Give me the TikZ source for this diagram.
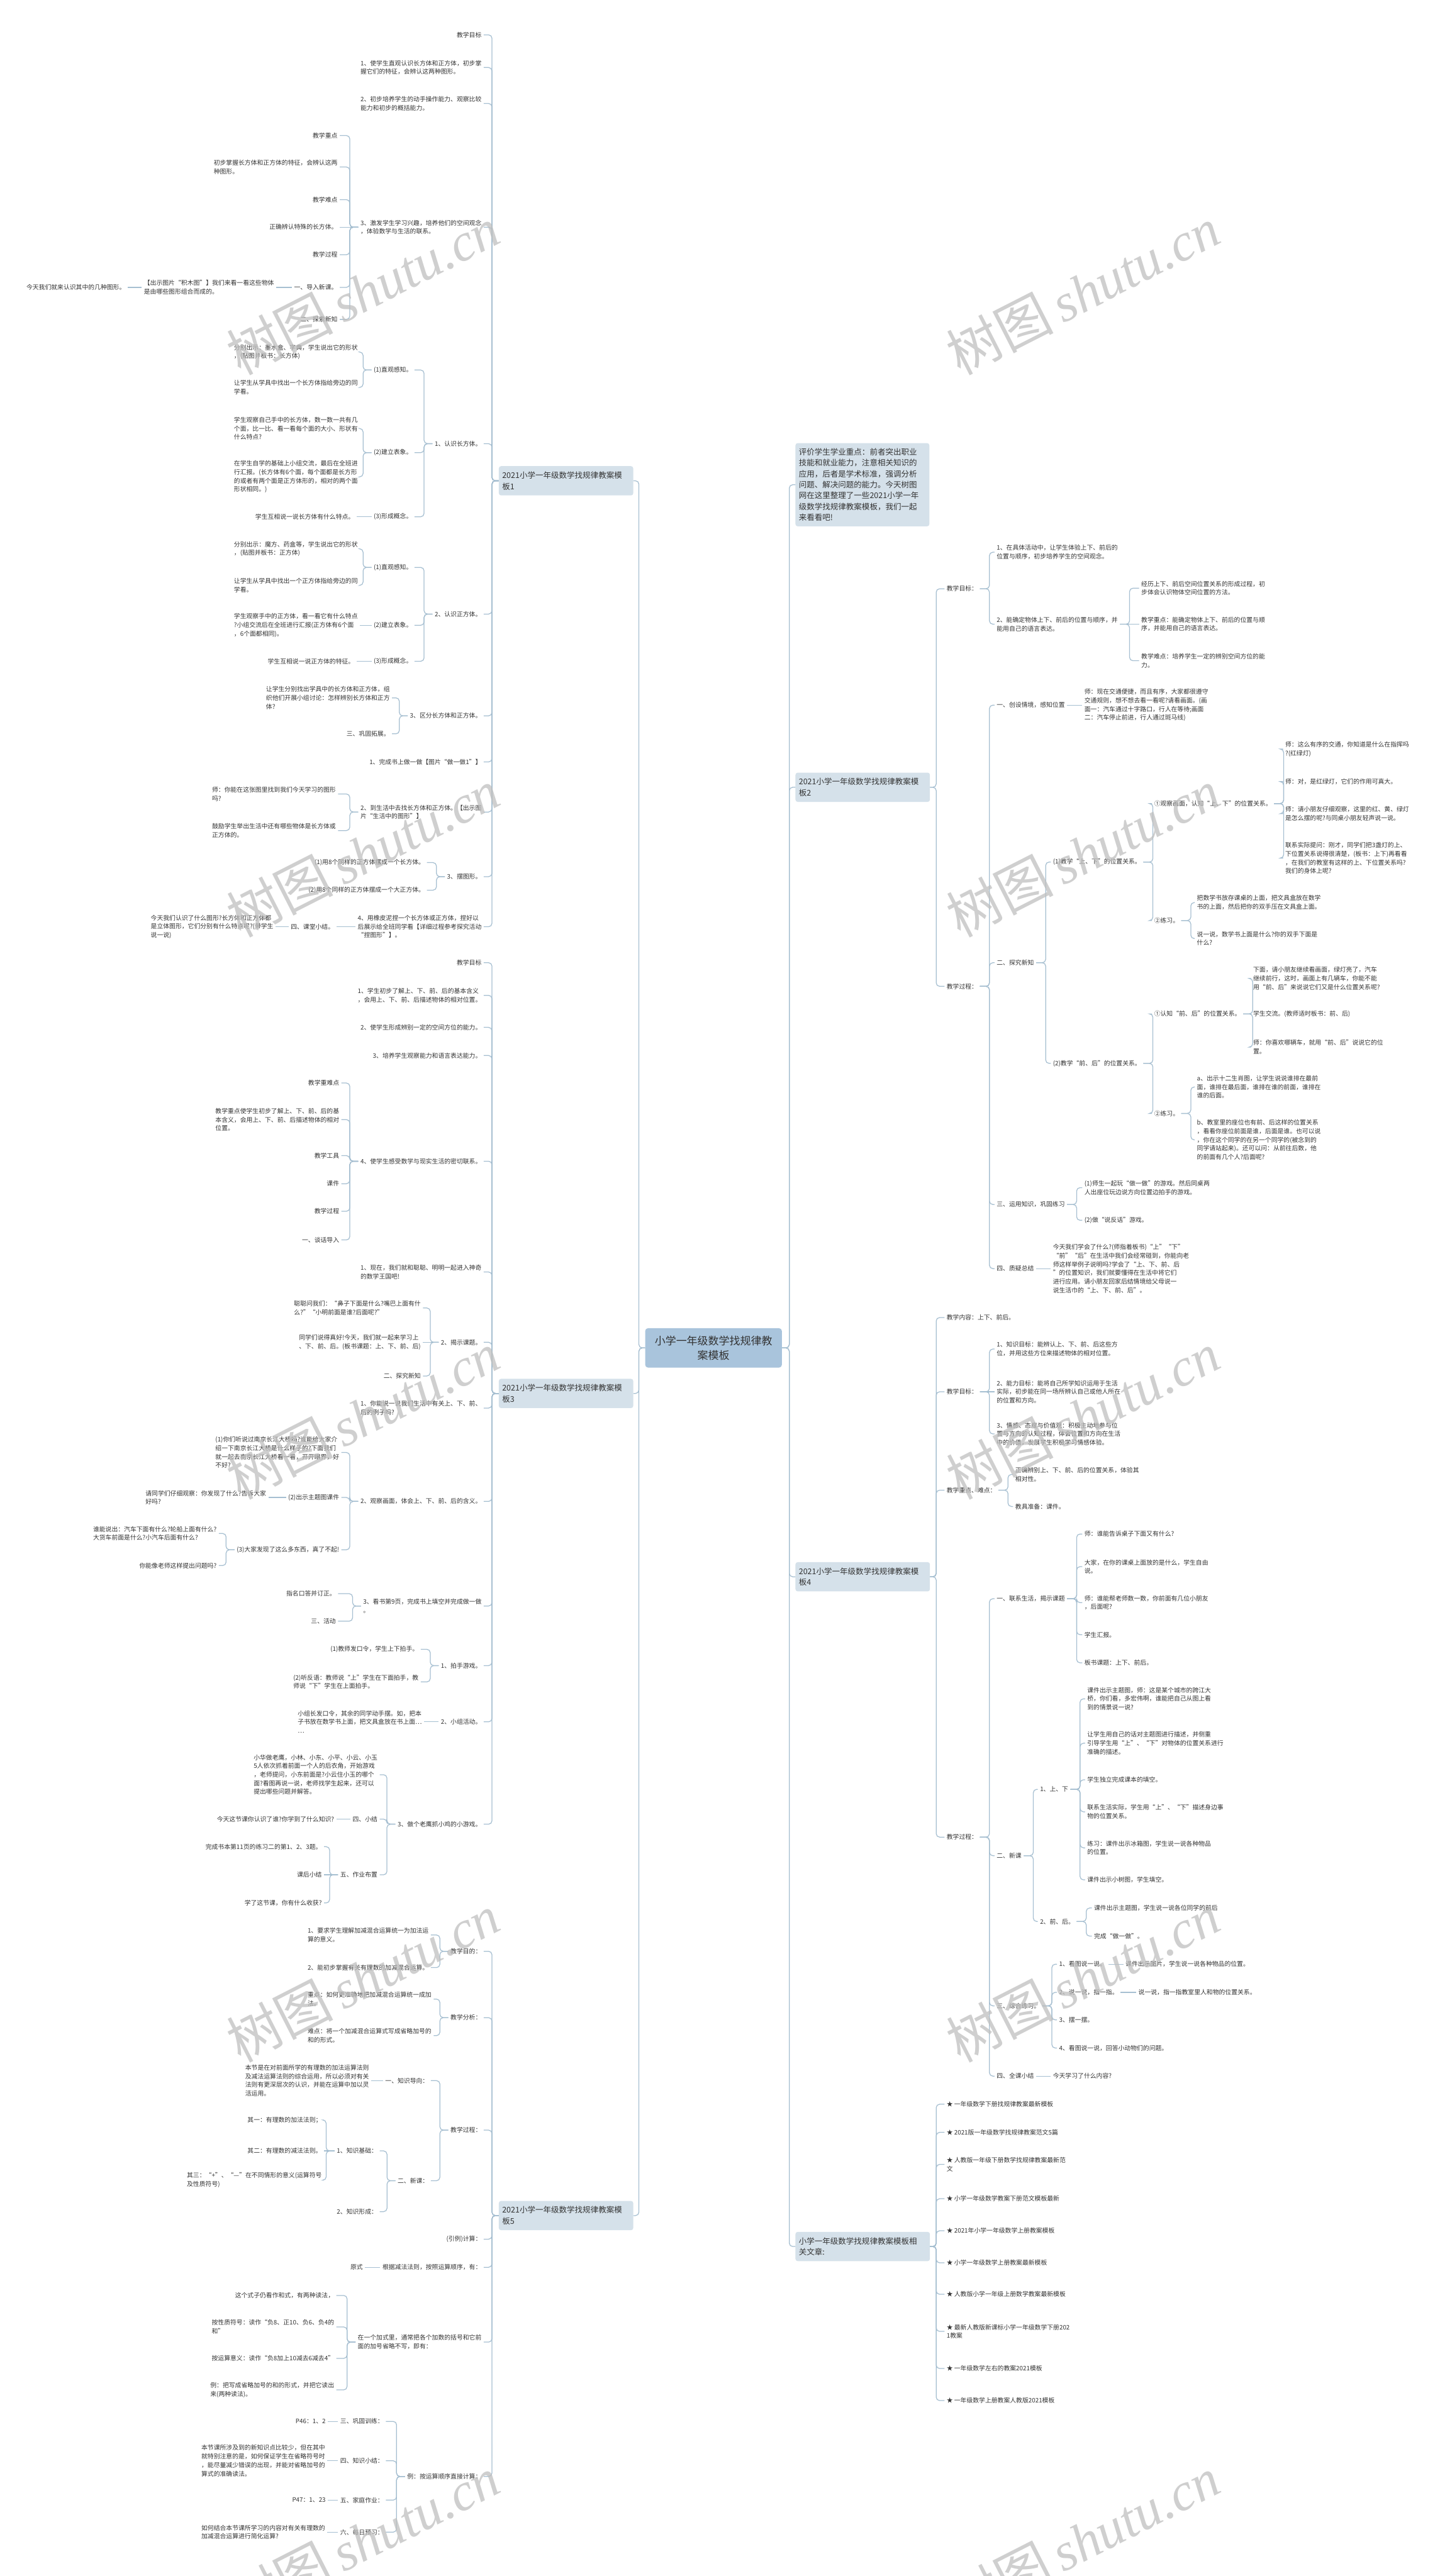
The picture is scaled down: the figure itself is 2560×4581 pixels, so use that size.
\documentclass[tikz,border=0pt]{standalone}
\usepackage{fontspec}
\setmainfont{Noto Sans CJK SC}
\newfontfamily\wmserif{Liberation Serif}
\definecolor{ln}{HTML}{A6BFD1}
\definecolor{txt}{HTML}{333333}
\definecolor{boxfill}{HTML}{D5E1EA}
\definecolor{rootfill}{HTML}{A9C4DC}
\tikzset{
  tx/.style={font=\fontsize{11}{15.3}\selectfont, align=left, inner sep=1pt, outer sep=3pt, text=txt},
  L/.style={tx, anchor=east},
  R/.style={tx, anchor=west},
  lvl/.style={fill=boxfill, rounded corners=4pt, font=\fontsize{14}{19.5}\selectfont, align=left, text width=227pt, inner sep=6pt, minimum height=52pt, text=txt},
  rootst/.style={fill=rootfill, rounded corners=5pt, font=\fontsize{19}{25.5}\selectfont, align=center, text width=231pt, inner sep=6pt, minimum height=70pt, text=txt},
  cn/.style={draw=ln, line width=1.4pt, rounded corners=6pt},
  wm/.style={rotate=27, text=black!25, opacity=0.75, font=\fontsize{95}{95}\selectfont},
}
\newcommand\brL[3]{\foreach \cc in {#3}{\draw[cn] (#1.west) -- ++(-#2,0) |- (\cc.east);}}
\newcommand\brR[3]{\foreach \cc in {#3}{\draw[cn] (#1.east) -- ++(#2,0) |- (\cc.west);}}
\newcommand\stL[2]{\draw[cn] (#1.west) -- (#2.east);}
\newcommand\stR[2]{\draw[cn] (#1.east) -- (#2.west);}
\begin{document}
\begin{tikzpicture}[x=1pt,y=-1pt]
\useasboundingbox (0,0) rectangle (2560,4581);
\fill[white] (0,0) rectangle (2560,4581);

% ---------- root and level 1 ----------
\node[rootst] (root) at (1268.5,2397) {小学一年级数学找规律教\\案模板};
\node[lvl,anchor=east] (T1) at (1126,855) {2021小学一年级数学找规律教案模\\板1};
\node[lvl,anchor=east] (T3) at (1126,2478) {2021小学一年级数学找规律教案模\\板3};
\node[lvl,anchor=east] (T5) at (1126,3940) {2021小学一年级数学找规律教案模\\板5};
\node[lvl,anchor=west,minimum height=148pt,text width=226pt] (I0) at (1414,862) {评价学生学业重点：前者突出职业\\技能和就业能力，注意相关知识的\\应用，后者是学术标准，强调分析\\问题、解决问题的能力。今天树图\\网在这里整理了一些2021小学一年\\级数学找规律教案模板，我们一起\\来看看吧!};
\node[lvl,anchor=west] (T2) at (1414,1400) {2021小学一年级数学找规律教案模\\板2};
\node[lvl,anchor=west] (T4) at (1414,2804) {2021小学一年级数学找规律教案模\\板4};
\node[lvl,anchor=west] (T6) at (1414,3995) {小学一年级数学找规律教案模板相\\关文章:};
\brL{root}{11}{T1,T3,T5}
\brR{root}{13}{I0,T2,T4,T6}

% ---------- Template 1 ----------
\node[L] (a1) at (860,62) {教学目标};
\node[L] (a2) at (860,120) {1、使学生直观认识长方体和正方体，初步掌\\握它们的特征，会辨认这两种图形。};
\node[L] (a3) at (860,184) {2、初步培养学生的动手操作能力、观察比较\\能力和初步的概括能力。};
\node[L] (a4) at (860,404) {3、激发学生学习兴趣，培养他们的空间观念\\，体验数学与生活的联系。};
\node[L] (a41) at (604,241) {教学重点};
\node[L] (a42) at (604,297) {初步掌握长方体和正方体的特征，会辨认这两\\种图形。};
\node[L] (a43) at (604,355) {教学难点};
\node[L] (a44) at (604,404) {正确辨认特殊的长方体。};
\node[L] (a45) at (604,453) {教学过程};
\node[L] (a46) at (604,511) {一、导入新课。};
\node[L] (a461) at (491,511) {【出示图片“积木图”】我们来看一看这些物体\\是由哪些图形组合而成的。};
\node[L] (a4611) at (227,511) {今天我们就来认识其中的几种图形。};
\node[L] (a47) at (604,568) {二、探索新知};
\node[L] (a5) at (860,789) {1、认识长方体。};
\node[L] (a51) at (737,658) {(1)直观感知。};
\node[L] (a511) at (640,626) {分别出示：墨水盒、字典，学生说出它的形状\\，(贴图并板书：长方体)};
\node[L] (a512) at (640,689) {让学生从学具中找出一个长方体指给旁边的同\\学看。};
\node[L] (a52) at (737,805) {(2)建立表象。};
\node[L] (a521) at (640,762) {学生观察自己手中的长方体，数一数一共有几\\个面，比一比、看一看每个面的大小、形状有\\什么特点?};
\node[L] (a522) at (640,848) {在学生自学的基础上小组交流，最后在全班进\\行汇报。(长方体有6个面，每个面都是长方形\\的或者有两个面是正方体形的，相对的两个面\\形状相同。)};
\node[L] (a53) at (737,919) {(3)形成概念。};
\node[L] (a531) at (634,919) {学生互相说一说长方体有什么特点。};
\node[L] (a6) at (860,1092) {2、认识正方体。};
\node[L] (a61) at (737,1009) {(1)直观感知。};
\node[L] (a611) at (640,976) {分别出示：魔方、药盒等，学生说出它的形状\\，(贴图并板书：正方体)};
\node[L] (a612) at (640,1041) {让学生从学具中找出一个正方体指给旁边的同\\学看。};
\node[L] (a62) at (737,1112) {(2)建立表象。};
\node[L] (a621) at (640,1112) {学生观察手中的正方体，看一看它有什么特点\\?小组交流后在全班进行汇报(正方体有6个面\\，6个面都相同)。};
\node[L] (a63) at (737,1176) {(3)形成概念。};
\node[L] (a631) at (634,1176) {学生互相说一说正方体的特征。};
\node[L] (a7) at (860,1273) {3、区分长方体和正方体。};
\node[L] (a71) at (697,1241) {让学生分别找出学具中的长方体和正方体，组\\织他们开展小组讨论：怎样辨别长方体和正方\\体?};
\node[L] (a72) at (697,1305) {三、巩固拓展。};
\node[L] (a8) at (860,1355) {1、完成书上做一做【图片“做一做1”】};
\node[L] (a9) at (860,1444) {2、到生活中去找长方体和正方体。【出示图\\片“生活中的图形”】};
\node[L] (a91) at (601,1412) {师：你能在这张图里找到我们今天学习的图形\\吗?};
\node[L] (a92) at (601,1477) {鼓励学生举出生活中还有哪些物体是长方体或\\正方体的。};
\node[L] (a10) at (860,1559) {3、摆图形。};
\node[L] (a101) at (759,1534) {(1)用8个同样的正方体摆成一个长方体。};
\node[L] (a102) at (759,1583) {(2)用8个同样的正方体摆成一个大正方体。};
\node[L] (a11) at (860,1648) {4、用橡皮泥捏一个长方体或正方体，捏好以\\后展示给全班同学看【详细过程参考探究活动\\“捏图形”】。};
\node[L] (a111) at (598,1648) {四、课堂小结。};
\node[L] (a1111) at (490,1648) {今天我们认识了什么图形?长方体和正方体都\\是立体图形，它们分别有什么特点呢?(带学生\\说一说)};

\brL{T1}{12}{a1,a2,a3,a4,a5,a6,a7,a8,a9,a10,a11}
\brL{a4}{15}{a41,a42,a43,a45,a46,a47}
\stL{a4}{a44}
\stL{a46}{a461}
\stL{a461}{a4611}
\brL{a5}{15}{a51,a52,a53}
\brL{a51}{15}{a511,a512}
\brL{a52}{15}{a521,a522}
\stL{a53}{a531}
\brL{a6}{15}{a61,a62,a63}
\brL{a61}{15}{a611,a612}
\stL{a62}{a621}
\stL{a63}{a631}
\brL{a7}{15}{a71,a72}
\brL{a9}{15}{a91,a92}
\brL{a10}{15}{a101,a102}
\stL{a11}{a111}
\stL{a111}{a1111}

% ---------- Template 3 ----------
\node[L] (b1) at (860,1712) {教学目标};
\node[L] (b2) at (860,1770) {1、学生初步了解上、下、前、后的基本含义\\，会用上、下、前、后描述物体的相对位置。};
\node[L] (b3) at (860,1827) {2、使学生形成辨别一定的空间方位的能力。};
\node[L] (b4) at (860,1877) {3、培养学生观察能力和语言表达能力。};
\node[L] (b5) at (860,2065) {4、使学生感受数学与现实生活的密切联系。};
\node[L] (b51) at (607,1926) {教学重难点};
\node[L] (b52) at (607,1991) {教学重点使学生初步了解上、下、前、后的基\\本含义，会用上、下、前、后描述物体的相对\\位置。};
\node[L] (b53) at (607,2055) {教学工具};
\node[L] (b54) at (607,2105) {课件};
\node[L] (b55) at (607,2154) {教学过程};
\node[L] (b56) at (607,2205) {一、谈话导入};
\node[L] (b6) at (860,2262) {1、现在，我们就和聪聪、明明一起进入神奇\\的数学王国吧!};
\node[L] (b7) at (860,2387) {2、揭示课题。};
\node[L] (b71) at (752,2326) {聪聪问我们：“鼻子下面是什么?嘴巴上面有什\\么?”“小明前面是谁?后面呢?”};
\node[L] (b72) at (752,2387) {同学们说得真好!今天，我们就一起来学习上\\、下、前、后。(板书课题：上、下、前、后)};
\node[L] (b73) at (752,2447) {二、探究新知};
\node[L] (b8) at (860,2504) {1、你能说一说我们生活中有关上、下、前、\\后的例子吗?};
\node[L] (b9) at (860,2670) {2、观察画面，体会上、下、前、后的含义。};
\node[L] (b91) at (607,2583) {(1)你们听说过南京长江大桥吗?谁能给大家介\\绍一下南京长江大桥是什么样子的?下面我们\\就一起去南京长江大桥看一看，开开眼界，好\\不好?};
\node[L] (b92) at (607,2663) {(2)出示主题图课件};
\node[L] (b921) at (477,2663) {请同学们仔细观察：你发现了什么?告诉大家\\好吗?};
\node[L] (b93) at (607,2756) {(3)大家发现了这么多东西，真了不起!};
\node[L] (b931) at (389,2727) {谁能说出：汽车下面有什么?轮船上面有什么?\\大货车前面是什么?小汽车后面有什么?};
\node[L] (b932) at (389,2784) {你能像老师这样提出问题吗?};
\node[L] (b10) at (860,2856) {3、看书第9页，完成书上填空并完成做一做\\。};
\node[L] (b101) at (601,2834) {指名口答并订正。};
\node[L] (b102) at (601,2883) {三、活动};
\node[L] (b11) at (860,2962) {1、拍手游戏。};
\node[L] (b111) at (748,2933) {(1)教师发口令，学生上下拍手。};
\node[L] (b112) at (748,2991) {(2)听反语：教师说“上”学生在下面拍手，教\\师说“下”学生在上面拍手。};
\node[L] (b12) at (860,3062) {2、小组活动。};
\node[L] (b121) at (754,3062) {小组长发口令，其余的同学动手摆。如，把本\\子书放在数学书上面，把文具盒放在书上面…\\…};
\node[L] (b13) at (860,3244) {3、做个老鹰抓小鸡的小游戏。};
\node[L] (b131) at (675,3156) {小华做老鹰，小林、小东、小平、小云、小玉\\5人依次抓着前面一个人的后衣角，开始游戏\\，老师提问，小东前面是?小云住小玉的哪个\\面?看图再说一说，老师找学生起来，还可以\\提出哪些问题并解答。};
\node[L] (b132) at (675,3235) {四、小结};
\node[L] (b1321) at (598,3235) {今天这节课你认识了谁?你学到了什么知识?};
\node[L] (b133) at (675,3334) {五、作业布置};
\node[L] (b1331) at (576,3284) {完成书本第11页的练习二的第1、2、3题。};
\node[L] (b1332) at (576,3334) {课后小结};
\node[L] (b1333) at (576,3384) {学了这节课，你有什么收获?};

\brL{T3}{12}{b1,b2,b3,b4,b5,b6,b7,b8,b9,b10,b11,b12,b13}
\brL{b5}{15}{b51,b52,b53,b54,b55,b56}
\brL{b7}{15}{b71,b73}
\stL{b7}{b72}
\brL{b9}{15}{b91,b92,b93}
\stL{b92}{b921}
\brL{b93}{15}{b931,b932}
\brL{b10}{15}{b101,b102}
\brL{b11}{15}{b111,b112}
\stL{b12}{b121}
\brL{b13}{15}{b131,b132,b133}
\stL{b132}{b1321}
\brL{b133}{15}{b1331,b1333}
\stL{b133}{b1332}

% ---------- Template 5 ----------
\node[L] (c1) at (860,3470) {教学目的：};
\node[L] (c11) at (766,3441) {1、要求学生理解加减混合运算统一为加法运\\算的意义。};
\node[L] (c12) at (766,3499) {2、能初步掌握有关有理数的加减混合运算。};
\node[L] (c2) at (860,3588) {教学分析：};
\node[L] (c21) at (771,3555) {重点：如何更准确地把加减混合运算统一成加\\法。};
\node[L] (c22) at (771,3620) {难点：将一个加减混合运算式写成省略加号的\\和的形式。};
\node[L] (c3) at (860,3788) {教学过程：};
\node[L] (c31) at (766,3700) {一、知识导向：};
\node[L] (c311) at (660,3700) {本节是在对前面所学的有理数的加法运算法则\\及减法运算法则的综合运用，所以必须对有关\\法则有更深层次的认识，并能在运算中加以灵\\活运用。};
\node[L] (c32) at (766,3878) {二、新课：};
\node[L] (c321) at (675,3825) {1、知识基础：};
\node[L] (c3211) at (576,3770) {其一：有理数的加法法则；};
\node[L] (c3212) at (576,3825) {其二：有理数的减法法则。};
\node[L] (c3213) at (576,3877) {其三：“+”、“—”在不同情形的意义(运算符号\\及性质符号)};
\node[L] (c322) at (675,3933) {2、知识形成：};
\node[L] (c4) at (860,3982) {(引例)计算：};
\node[L] (c5) at (860,4032) {根据减法法则，按照运算顺序，有：};
\node[L] (c51) at (649,4032) {原式};
\node[L] (c6) at (860,4165) {在一个加式里，通常把各个加数的括号和它前\\面的加号省略不写，即有：};
\node[L] (c61) at (598,4082) {这个式子仍看作和式，有两种读法，};
\node[L] (c62) at (598,4138) {按性质符号：读作“负8、正10、负6、负4的\\和”};
\node[L] (c63) at (598,4194) {按运算意义：读作“负8加上10减去6减去4”};
\node[L] (c64) at (598,4250) {例：把写成省略加号的和的形式，并把它读出\\来(两种读法)。};
\node[L] (c7) at (860,4404) {例：按运算顺序直接计算：};
\node[L] (c71) at (686,4306) {三、巩固训练：};
\node[L] (c711) at (583,4306) {P46：1、2};
\node[L] (c72) at (686,4376) {四、知识小结：};
\node[L] (c721) at (582,4376) {本节课所涉及到的新知识点比较少，但在其中\\就特别注意的是，如何保证学生在省略符号时\\，能尽量减少错误的出现，并能对省略加号的\\算式的准确读法。};
\node[L] (c73) at (686,4446) {五、家庭作业：};
\node[L] (c731) at (583,4446) {P47：1、23};
\node[L] (c74) at (686,4503) {六、每日预习：};
\node[L] (c741) at (582,4503) {如何结合本节课所学习的内容对有关有理数的\\加减混合运算进行简化运算?};

\brL{T5}{12}{c1,c2,c3,c4,c5,c6,c7}
\brL{c1}{15}{c11,c12}
\brL{c2}{15}{c21,c22}
\brL{c3}{15}{c31,c32}
\stL{c31}{c311}
\brL{c32}{15}{c321,c322}
\brL{c321}{15}{c3211,c3213}
\stL{c321}{c3212}
\stL{c5}{c51}
\brL{c6}{15}{c61,c62,c63,c64}
\brL{c7}{15}{c71,c72,c73,c74}
\stL{c71}{c711}
\stL{c72}{c721}
\stL{c73}{c731}
\stL{c74}{c741}

% ---------- Template 2 ----------
\node[R] (d1) at (1679,1047) {教学目标：};
\node[R] (d11) at (1768,982) {1、在具体活动中，让学生体验上下、前后的\\位置与顺序，初步培养学生的空间观念。};
\node[R] (d12) at (1768,1110) {2、能确定物体上下、前后的位置与顺序，并\\能用自己的语言表达。};
\node[R] (d121) at (2025,1046) {经历上下、前后空间位置关系的形成过程，初\\步体会认识物体空间位置的方法。};
\node[R] (d122) at (2025,1110) {教学重点：能确定物体上下、前后的位置与顺\\序，并能用自己的语言表达。};
\node[R] (d123) at (2025,1175) {教学难点：培养学生一定的辨别空间方位的能\\力。};
\node[R] (d2) at (1679,1754) {教学过程：};
\node[R] (d21) at (1768,1254) {一、创设情境，感知位置};
\node[R] (d211) at (1924,1254) {师：现在交通便捷，而且有序，大家都很遵守\\交通规则，想不想去看一看呢?请看画面。(画\\面一：汽车通过十字路口，行人在等待;画面\\二：汽车停止前进，行人通过斑马线)};
\node[R] (d22) at (1768,1712) {二、探究新知};
\node[R] (d221) at (1868,1533) {(1)教学“上、下”的位置关系。};
\node[R] (d2211) at (2048,1429) {①观察画面，认知“上、下”的位置关系。};
\node[R] (d22111) at (2281,1332) {师：这么有序的交通，你知道是什么在指挥吗\\?(红绿灯)};
\node[R] (d22112) at (2281,1390) {师：对，是红绿灯，它们的作用可真大。};
\node[R] (d22113) at (2281,1447) {师：请小朋友仔细观察，这里的红、黄、绿灯\\是怎么摆的呢?与同桌小朋友轻声说一说。};
\node[R] (d22114) at (2281,1526) {联系实际提问：刚才，同学们把3盏灯的上、\\下位置关系说得很清楚，(板书：上下)再看看\\，在我们的教室有这样的上、下位置关系吗?\\我们的身体上呢?};
\node[R] (d2212) at (2048,1637) {②练习。};
\node[R] (d22121) at (2124,1605) {把数学书放存课桌的上面，把文具盒放在数学\\书的上面，然后把你的双手压在文具盒上面。};
\node[R] (d22122) at (2124,1669) {说一说，数学书上面是什么?你的双手下面是\\什么?};
\node[R] (d222) at (1868,1891) {(2)教学“前、后”的位置关系。};
\node[R] (d2221) at (2048,1803) {①认知“前、后”的位置关系。};
\node[R] (d22211) at (2224,1740) {下面，请小朋友继续看画面，绿灯亮了，汽车\\继续前行，这时，画面上有几辆车，你能不能\\用“前、后”来说说它们又是什么位置关系呢?};
\node[R] (d22212) at (2224,1803) {学生交流。(教师适时板书：前、后)};
\node[R] (d22213) at (2224,1862) {师：你喜欢哪辆车，就用“前、后”说说它的位\\置。};
\node[R] (d2222) at (2048,1980) {②练习。};
\node[R] (d22221) at (2124,1933) {a、出示十二生肖图，让学生说说谁排在最前\\面，谁排在最后面，谁排在谁的前面，谁排在\\谁的后面。};
\node[R] (d22222) at (2124,2027) {b、教室里的座位也有前、后这样的位置关系\\，看看你座位前面是谁，后面是谁。也可以说\\，你在这个同学的在另一个同学的(被念到的\\同学请站起来)。还可以问：从前往后数，他\\的前面有几个人?后面呢?};
\node[R] (d23) at (1768,2142) {三、运用知识，巩固练习};
\node[R] (d231) at (1924,2112) {(1)师生一起玩“做一做”的游戏。然后同桌两\\人出座位玩边说方向位置边拍手的游戏。};
\node[R] (d232) at (1924,2170) {(2)做“说反话”游戏。};
\node[R] (d24) at (1768,2256) {四、质疑总结};
\node[R] (d241) at (1868,2256) {今天我们学会了什么?(师指着板书)“上”“下”\\“前”“后”在生活中我们会经常碰到，你能向老\\师这样举例子说明吗?学会了“上、下、前、后\\”的位置知识，我们就要懂得在生活中将它们\\进行应用。请小朋友回家后结情境给父母说一\\说生活巾的“上、下、前、后”。};

\brR{T2}{11}{d1,d2}
\brR{d1}{17}{d11,d12}
\brR{d12}{17}{d121,d123}
\stR{d12}{d122}
\brR{d2}{17}{d21,d22,d23,d24}
\stR{d21}{d211}
\brR{d22}{17}{d221,d222}
\brR{d221}{17}{d2211,d2212}
\brR{d2211}{17}{d22111,d22112,d22113,d22114}
\brR{d2212}{17}{d22121,d22122}
\brR{d222}{17}{d2221,d2222}
\brR{d2221}{17}{d22211,d22213}
\stR{d2221}{d22212}
\brR{d2222}{17}{d22221,d22222}
\brR{d23}{17}{d231,d232}
\stR{d24}{d241}

% ---------- Template 4 ----------
\node[R] (e1) at (1679,2343) {教学内容：上下、前后。};
\node[R] (e2) at (1679,2475) {教学目标：};
\node[R] (e21) at (1768,2399) {1、知识目标：能辨认上、下、前、后这些方\\位，并用这些方位来描述物体的相对位置。};
\node[R] (e22) at (1768,2475) {2、能力目标：能将自己所学知识运用于生活\\实际，初步能在同一场所辨认自己或他人所在\\的位置和方向。};
\node[R] (e23) at (1768,2550) {3、情感、态度与价值观：积极主动地参与位\\置与方向的认知过程，体会位置和方向在生活\\中的价值，发展学生积极学习情感体验。};
\node[R] (e3) at (1679,2650) {教学重点、难点：};
\node[R] (e31) at (1801,2622) {正确辨别上、下、前、后的位置关系，体验其\\相对性。};
\node[R] (e32) at (1801,2679) {教具准备：课件。};
\node[R] (e4) at (1679,3267) {教学过程：};
\node[R] (e41) at (1768,2843) {一、联系生活，揭示课题};
\node[R] (e411) at (1924,2728) {师：谁能告诉桌子下面又有什么?};
\node[R] (e412) at (1924,2786) {大家，在你的课桌上面放的是什么，学生自由\\说。};
\node[R] (e413) at (1924,2850) {师：谁能帮老师数一数，你前面有几位小朋友\\，后面呢?};
\node[R] (e414) at (1924,2907) {学生汇报。};
\node[R] (e415) at (1924,2957) {板书课题：上下、前后。};
\node[R] (e42) at (1768,3300) {二、新课};
\node[R] (e421) at (1845,3182) {1、上、下};
\node[R] (e4211) at (1929,3021) {课件出示主题图，师：这是某个城市的跨江大\\桥，你们看，多宏伟啊，谁能把自己从图上看\\到的情景说一说?};
\node[R] (e4212) at (1929,3100) {让学生用自己的话对主题图进行描述，并侧重\\引导学生用“上”、“下”对物体的位置关系进行\\准确的描述。};
\node[R] (e4213) at (1929,3165) {学生独立完成课本的填空。};
\node[R] (e4214) at (1929,3222) {联系生活实际，学生用“上”、“下”描述身边事\\物的位置关系。};
\node[R] (e4215) at (1929,3286) {练习：课件出示冰箱图，学生说一说各种物品\\的位置。};
\node[R] (e4216) at (1929,3343) {课件出示小树图，学生填空。};
\node[R] (e422) at (1845,3417) {2、前、后。};
\node[R] (e4221) at (1941,3393) {课件出示主题图，学生说一说各位同学的前后};
\node[R] (e4222) at (1941,3443) {完成“做一做”。};
\node[R] (e43) at (1768,3567) {三、综合练习。};
\node[R] (e431) at (1879,3493) {1、看图说一说。};
\node[R] (e4311) at (1997,3493) {课件出示图片，学生说一说各种物品的位置。};
\node[R] (e432) at (1879,3543) {2、说一说，指一指。};
\node[R] (e4321) at (2020,3543) {说一说，指一指教室里人和物的位置关系。};
\node[R] (e433) at (1879,3592) {3、摆一摆。};
\node[R] (e434) at (1879,3642) {4、看图说一说，回答小动物们的问题。};
\node[R] (e44) at (1768,3692) {四、全课小结};
\node[R] (e441) at (1868,3692) {今天学习了什么内容?};

\brR{T4}{11}{e1,e2,e3,e4}
\brR{e2}{17}{e21,e23}
\stR{e2}{e22}
\brR{e3}{17}{e31,e32}
\brR{e4}{17}{e41,e42,e43,e44}
\brR{e41}{17}{e411,e412,e413,e414,e415}
\brR{e42}{17}{e421,e422}
\brR{e421}{17}{e4211,e4212,e4213,e4214,e4215,e4216}
\brR{e422}{17}{e4221,e4222}
\brR{e43}{17}{e431,e432,e433,e434}
\stR{e431}{e4311}
\stR{e432}{e4321}
\stR{e44}{e441}

% ---------- related articles ----------
\node[R] (f1) at (1679,3742) {★ 一年级数学下册找规律教案最新模板};
\node[R] (f2) at (1679,3792) {★ 2021版一年级数学找规律教案范文5篇};
\node[R] (f3) at (1679,3849) {★ 人教版一年级下册数学找规律教案最新范\\文};
\node[R] (f4) at (1679,3910) {★ 小学一年级数学教案下册范文模板最新};
\node[R] (f5) at (1679,3967) {★ 2021年小学一年级数学上册教案模板};
\node[R] (f6) at (1679,4024) {★ 小学一年级数学上册教案最新模板};
\node[R] (f7) at (1679,4080) {★ 人教版小学一年级上册数学教案最新模板};
\node[R] (f8) at (1679,4146) {★ 最新人教版新课标小学一年级数学下册202\\1教案};
\node[R] (f9) at (1679,4212) {★ 一年级数学左右的教案2021模板};
\node[R] (f10) at (1679,4269) {★ 一年级数学上册教案人教版2021模板};
\brR{T6}{11}{f1,f2,f3,f4,f5,f6,f7,f8,f9,f10}

% ---------- watermarks ----------
\foreach \yy in {517,1517,2517,3517,4517}{
  \node[wm] at (645,\yy) {树图\,{\wmserif\itshape shutu.cn}};
  \node[wm] at (1925,\yy) {树图\,{\wmserif\itshape shutu.cn}};
}
\end{tikzpicture}
\end{document}
